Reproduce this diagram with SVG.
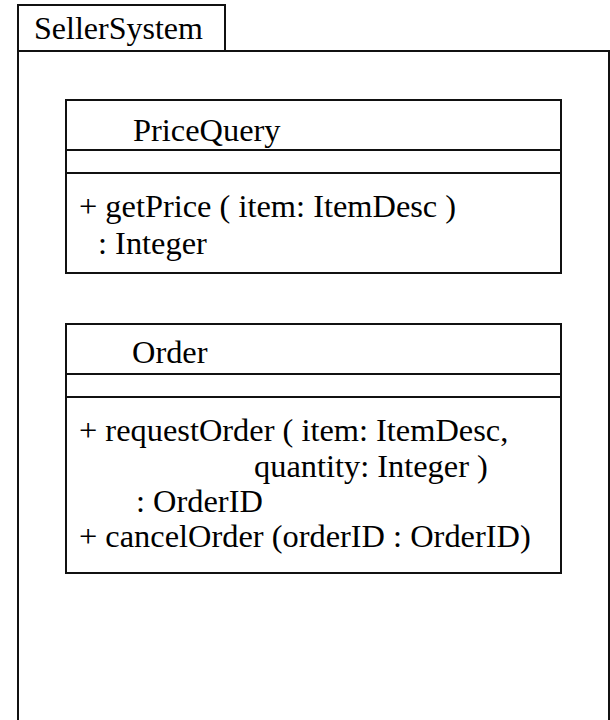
<svg xmlns="http://www.w3.org/2000/svg" width="610" height="720" viewBox="0 0 610 720">
  <style>
    .frame { fill: none; stroke: #111; stroke-width: 2; }
    .box { fill: #fff; stroke: #111; stroke-width: 2; }
    .sep { stroke: #111; stroke-width: 2; }
    text { font-family: 'Liberation Serif', 'Times New Roman', serif; font-size: 32.4px; fill: #000; }
    .pkg { font-size: 32px; }
  </style>
  <rect width="610" height="720" fill="#fff"/>

  <!-- package SellerSystem: name tab plus open-bottom body -->
  <g id="SellerSystem">
    <rect class="frame" x="18" y="5" width="207" height="46"/>
    <path class="frame" d="M18 51 V720 M18 51 H609 V720"/>
    <text class="pkg" x="34" y="39">SellerSystem</text>
  </g>

  <!-- class PriceQuery -->
  <g id="PriceQuery">
    <rect class="box" x="66" y="100" width="495" height="173"/>
    <line class="sep" x1="66" y1="150" x2="561" y2="150"/>
    <line class="sep" x1="66" y1="173" x2="561" y2="173"/>
    <text x="133" y="141">PriceQuery</text>
    <text x="79" y="217">+ getPrice ( item: ItemDesc )</text>
    <text x="98" y="254">: Integer</text>
  </g>

  <!-- class Order -->
  <g id="Order">
    <rect class="box" x="66" y="324" width="495" height="249"/>
    <line class="sep" x1="66" y1="374" x2="561" y2="374"/>
    <line class="sep" x1="66" y1="397" x2="561" y2="397"/>
    <text x="132" y="363">Order</text>
    <text x="79" y="441">+ requestOrder ( item: ItemDesc,</text>
    <text x="254" y="477">quantity: Integer )</text>
    <text x="136" y="512">: OrderID</text>
    <text x="79" y="547">+ cancelOrder (orderID : OrderID)</text>
  </g>

  <g id="connectors"/>
</svg>
